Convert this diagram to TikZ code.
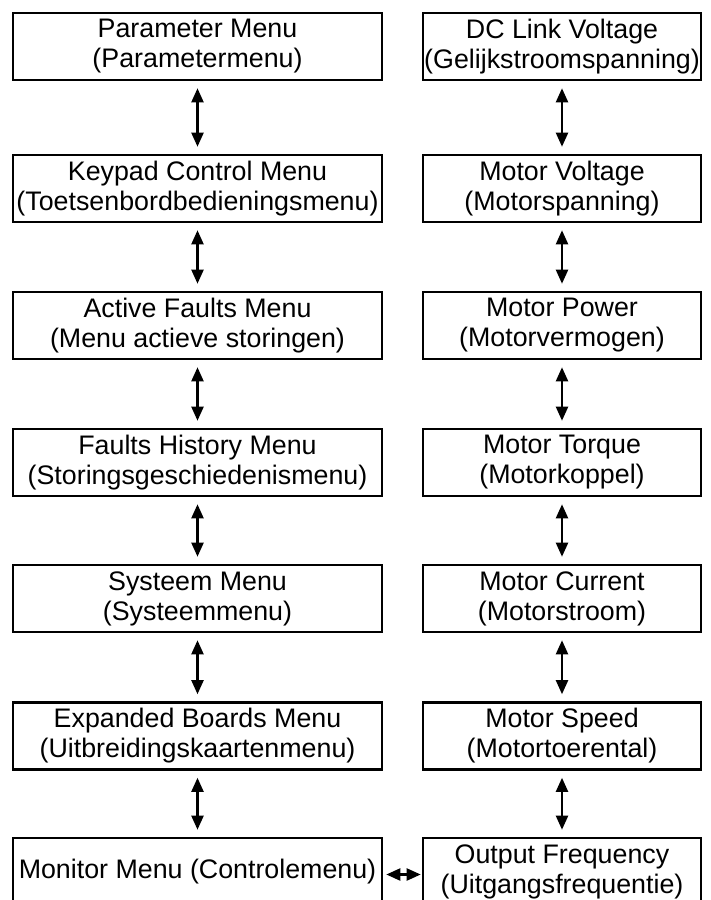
\documentclass[tikz,border=0pt]{standalone}
\usepackage{fontspec}
\setmainfont{Liberation Sans}
\usepackage{tikz}
\usetikzlibrary{arrows.meta}

\begin{document}
\begin{tikzpicture}[x=1pt,y=-1pt,
  menubox/.style={draw,line width=2.6pt,minimum width=369pt,minimum height=67pt,inner sep=0pt,align=center,
    font=\fontsize{26.8}{30}\selectfont},
  valbox/.style={menubox,minimum width=278pt},
  link/.style={{Triangle[length=14pt,width=12pt]}-{Triangle[length=14pt,width=12pt]},line width=2.2pt,
    shorten <=7pt,shorten >=7pt}]

\def\lx{197.5}
\def\rx{562}

\useasboundingbox (0,0) rectangle (711,900);

% left column
\node[menubox] (param) at (\lx,46.5) {Parameter Menu\\(Parametermenu)};
\node[menubox] (keypad) at (\lx,188.5) {Keypad Control Menu\\(Toetsenbordbedieningsmenu)};
\node[menubox] (active) at (\lx,325.5) {Active Faults Menu\\(Menu actieve storingen)};
\node[menubox] (history) at (\lx,462.5) {Faults History Menu\\(Storingsgeschiedenismenu)};
\node[menubox] (system) at (\lx,598.5) {Systeem Menu\\(Systeemmenu)};
\node[menubox] (boards) at (\lx,736) {Expanded Boards Menu\\(Uitbreidingskaartenmenu)};
\node[menubox] (monitor) at (\lx,871.5) {Monitor Menu (Controlemenu)};

% right column
\node[valbox] (dclink) at (\rx,46.5) {DC Link Voltage\\(Gelijkstroomspanning)};
\node[valbox] (voltage) at (\rx,188.5) {Motor Voltage\\(Motorspanning)};
\node[valbox] (power) at (\rx,325.5) {Motor Power\\(Motorvermogen)};
\node[valbox] (torque) at (\rx,462.5) {Motor Torque\\(Motorkoppel)};
\node[valbox] (current) at (\rx,598.5) {Motor Current\\(Motorstroom)};
\node[valbox] (speed) at (\rx,736) {Motor Speed\\(Motortoerental)};
\node[valbox] (freq) at (\rx,871.5) {Output Frequency\\(Uitgangsfrequentie)};

\draw[link] (param) -- (keypad);
\draw[link] (keypad) -- (active);
\draw[link] (active) -- (history);
\draw[link] (history) -- (system);
\draw[link] (system) -- (boards);
\draw[link] (boards) -- (monitor);

\draw[link] (dclink) -- (voltage);
\draw[link] (voltage) -- (power);
\draw[link] (power) -- (torque);
\draw[link] (torque) -- (current);
\draw[link] (current) -- (speed);
\draw[link] (speed) -- (freq);

\draw[link,shorten <=3pt,shorten >=1pt] ([yshift=-3pt]monitor.east) -- ([yshift=-3pt]freq.west);

\end{tikzpicture}
\end{document}
